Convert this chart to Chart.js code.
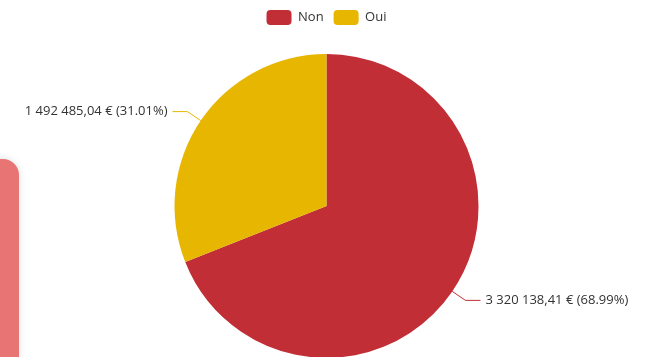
<!DOCTYPE html>
<html lang="fr">
  <head>
    <meta charset="UTF-8" />
    <title>Répartition</title>
    <style>
      html, body { margin: 0; padding: 0; background: #fff; overflow: hidden; }
      #wrap { position: relative; width: 646px; height: 358px; }
      #card {
        position: absolute; left: -24px; top: 159px; width: 43px; height: 240px;
        background: #e87474; border-radius: 16px;
        box-shadow: 0 0 8px rgba(0, 0, 0, 0.12);
      }
      #pieChart { position: absolute; left: 0; top: 0; }
    </style>
  </head>
  <body>
    <div id="wrap">
      <div id="card"></div>
      <canvas id="pieChart" width="646" height="358"></canvas>
    </div>
    <script src="https://cdn.jsdelivr.net/npm/chart.js"></script>
    <script>
      // data
      const labels = ["Non", "Oui"];
      const montants = [3320138.41, 1492485.04];
      const couleurs = ["#c12e36", "#e6b600"];

      function formatEuro(v) {
        const parts = v.toFixed(2).split(".");
        const ent = parts[0].replace(/\B(?=(\d{3})+(?!\d))/g, " ");
        return ent + "," + parts[1] + " €";
      }

      // leave some room under the legend
      const legendGap = {
        id: "legendGap",
        beforeInit(chart) {
          const fit = chart.legend.fit;
          chart.legend.fit = function () {
            fit.call(this);
            this.height += 19;
          };
        }
      };

      // labels outside the pie with a leader line
      const outsideLabels = {
        id: "outsideLabels",
        afterDatasetsDraw(chart) {
          const ctx = chart.ctx;
          const meta = chart.getDatasetMeta(0);
          const data = chart.data.datasets[0].data;
          const total = data.reduce((a, b) => a + b, 0);
          meta.data.forEach((arc, i) => {
            const mid = (arc.startAngle + arc.endAngle) / 2;
            const r = arc.outerRadius;
            const cos = Math.cos(mid), sin = Math.sin(mid);
            const x0 = arc.x + cos * r, y0 = arc.y + sin * r;
            const x1 = arc.x + cos * (r + 16), y1 = arc.y + sin * (r + 16);
            const dir = cos >= 0 ? 1 : -1;
            const x2 = x1 + dir * 15;
            ctx.save();
            ctx.strokeStyle = couleurs[i];
            ctx.lineWidth = 1;
            ctx.beginPath();
            ctx.moveTo(x0, y0);
            ctx.lineTo(x1, y1);
            ctx.lineTo(x2, y1);
            ctx.stroke();
            const pct = (data[i] / total * 100).toFixed(2);
            ctx.fillStyle = "#333";
            ctx.font = "13px 'Open Sans'";
            ctx.textBaseline = "middle";
            ctx.textAlign = dir > 0 ? "left" : "right";
            ctx.fillText(formatEuro(data[i]) + " (" + pct + "%)", x2 + dir * 5, y1);
            ctx.restore();
          });
        }
      };

      new Chart(document.getElementById("pieChart"), {
        type: "pie",
        data: {
          labels: labels,
          datasets: [
            {
              data: montants,
              backgroundColor: couleurs,
              borderWidth: 0,
            },
          ],
        },
        options: {
          responsive: false,
          animation: false,
          events: [],
          layout: { padding: { left: 7, top: 0, right: 0, bottom: 0 } },
          plugins: {
            legend: {
              position: "top",
              labels: {
                boxWidth: 25,
                boxHeight: 15,
                useBorderRadius: true,
                borderRadius: 4,
                color: "#333",
                font: { family: "'Open Sans'", size: 13 },
              },
            },
            tooltip: { enabled: false },
          },
        },
        plugins: [legendGap, outsideLabels],
      });
    </script>
  </body>
</html>
